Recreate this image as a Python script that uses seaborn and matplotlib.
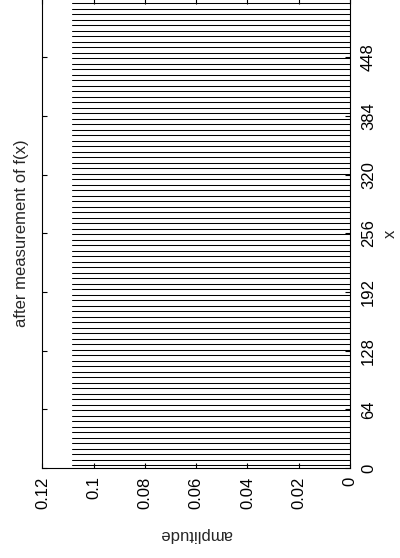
import numpy as np
import pandas as pd
import seaborn as sns
import matplotlib
matplotlib.use("Agg")
import matplotlib.pyplot as plt

#### data
# stem positions (period 6, offset 3) and their amplitude
x_pos = [3, 9, 15, 21, 27, 33, 39, 45, 51, 57, 63, 69, 75, 81, 87, 93, 99,
         105, 111, 117, 123, 129, 135, 141, 147, 153, 159, 165, 171, 177, 183,
         189, 195, 201, 207, 213, 219, 225, 231, 237, 243, 249, 255, 261, 267,
         273, 279, 285, 291, 297, 303, 309, 315, 321, 327, 333, 339, 345, 351,
         357, 363, 369, 375, 381, 387, 393, 399, 405, 411, 417, 423, 429, 435,
         441, 447, 453, 459, 465, 471, 477, 483, 489, 495, 501, 507]
amp = [0.1085] * len(x_pos)

x_ticks = [0, 64, 128, 192, 256, 320, 384, 448]
x_labels = ["0", "64", "128", "192", "256", "320", "384", "448"]
amp_ticks = [0, 0.02, 0.04, 0.06, 0.08, 0.1, 0.12]
amp_labels = ["0", "0.02", "0.04", "0.06", "0.08", "0.1", "0.12"]

#### style
sns.set_theme(style="ticks", rc={"axes.edgecolor": "black",
                                 "axes.linewidth": 0.8,
                                 "xtick.color": "black",
                                 "ytick.color": "black"})
plt.rcParams['font.family'] = ['Liberation Sans', 'DejaVu Sans']

# long form: every stem is a line from 0 to its amplitude
df = pd.DataFrame({"x": x_pos + x_pos,
                   "amplitude": [0.0] * len(x_pos) + amp})

fig = plt.figure(figsize=(4, 5.58), dpi=100)
ax = fig.add_axes([0.106, 0.1613, 0.769, 0.841])

sns.lineplot(data=df, x="amplitude", y="x", units="x", estimator=None,
             orient="y", color="black", linewidth=0.75, ax=ax, legend=False)

# the whole plot is turned a quarter turn: amplitude runs right to left
ax.set_xlim(0.12, 0)
ax.set_ylim(0, 512)

ax.set_xticks(amp_ticks, amp_labels)
ax.set_yticks(x_ticks, x_labels)

ax.tick_params(axis="both", direction="in", length=3.5, width=0.8,
               top=True, bottom=True, left=True, right=True, labelsize=12)
ax.tick_params(axis="x", labelrotation=90, pad=6)
ax.tick_params(axis="y", labelleft=False, labelright=True,
               labelrotation=90, pad=8)
for lab in ax.get_yticklabels():
    lab.set_va("center")
for lab in ax.get_xticklabels():
    lab.set_ha("center")
    lab.set_va("top")

ax.set_xlabel("amplitude", rotation=180, fontsize=12, labelpad=13)
ax.yaxis.set_label_position("right")
ax.set_ylabel("x", rotation=90, fontsize=12, labelpad=5)

ax.text(-0.068, 0.5, "after measurement of f(x)", transform=ax.transAxes,
        rotation=90, ha="center", va="center", fontsize=12)

fig.savefig("out.png", dpi=100)
